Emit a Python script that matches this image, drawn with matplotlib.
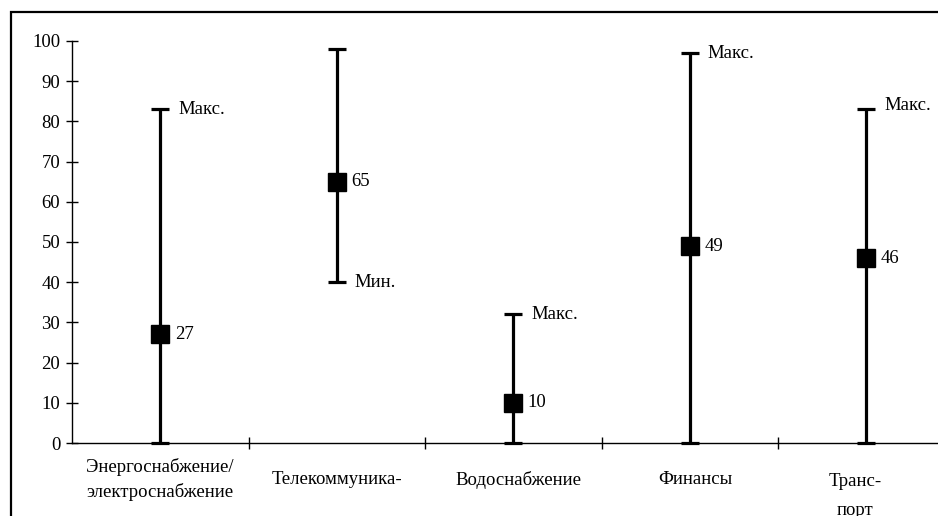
import numpy as np
import matplotlib.pyplot as plt
from matplotlib.patches import Rectangle

plt.rcParams['font.family'] = ['Liberation Serif', 'DejaVu Serif']

# данные
categories = ['Энергоснабжение/\nэлектроснабжение', 'Телекоммуника-', 'Водоснабжение',
              'Финансы', 'Транс-\nпорт']
values = np.array([27, 65, 10, 49, 46])
mins = np.array([0, 40, 0, 0, 0])
maxs = np.array([83, 98, 32, 97, 83])
end_labels = ['Макс.', 'Мин.', 'Макс.', 'Макс.', 'Макс.']
label_at_max = [True, False, True, True, True]

x = np.arange(len(categories))
fs = 13.5

fig = plt.figure(figsize=(9.38, 5.16), dpi=100)
ax = fig.add_axes([72/938, 73/516, 882.5/938, 402/516])

ax.errorbar(x, values, yerr=[values - mins, maxs - values], fmt='s', color='black',
            ms=12.5, capsize=6.5, elinewidth=2.3, capthick=2.3, clip_on=False)

for xi, v in zip(x, values):
    ax.annotate(str(v), (xi, v), xytext=(10.5, 0), textcoords='offset points',
                va='center', ha='left', fontsize=fs)

for xi, lo, hi, lab, at_max in zip(x, mins, maxs, end_labels, label_at_max):
    y = hi if at_max else lo
    dy = 3 if xi == 4 else 0
    ax.annotate(lab, (xi, y), xytext=(13, dy), textcoords='offset points',
                va='center', ha='left', fontsize=fs)

# подписи категорий
for xi, cat in zip(x, categories):
    dx = {2: 4, 3: 4, 4: -8}.get(xi, 0)
    if xi == 4:
        ax.annotate(cat, (xi, 0), xycoords=('data', 'axes fraction'), xytext=(dx, -38),
                    textcoords='offset points', ha='center', va='center',
                    fontsize=fs, linespacing=1.95)
    else:
        ax.annotate(cat, (xi, 0), xycoords=('data', 'axes fraction'), xytext=(dx, -26.5),
                    textcoords='offset points', ha='center', va='center',
                    fontsize=fs, linespacing=1.5)

ax.set_xlim(-0.5, len(categories) - 0.5)
ax.set_ylim(0, 100)
ax.set_yticks(np.arange(0, 101, 10))
ax.set_xticks(x + 0.5)
ax.set_xticklabels([])
ax.tick_params(axis='x', direction='inout', length=9, width=1)
ax.tick_params(axis='y', direction='inout', length=9, width=1, labelsize=fs, pad=4)

for s in ['top', 'right']:
    ax.spines[s].set_visible(False)
for s in ['left', 'bottom']:
    ax.spines[s].set_linewidth(1)

fig.patches.append(Rectangle((11/938, -0.2), 1.2, 1.2 - 12/516, transform=fig.transFigure,
                             fill=False, lw=1.6, color='black'))

fig.savefig('out.png', dpi=100)
